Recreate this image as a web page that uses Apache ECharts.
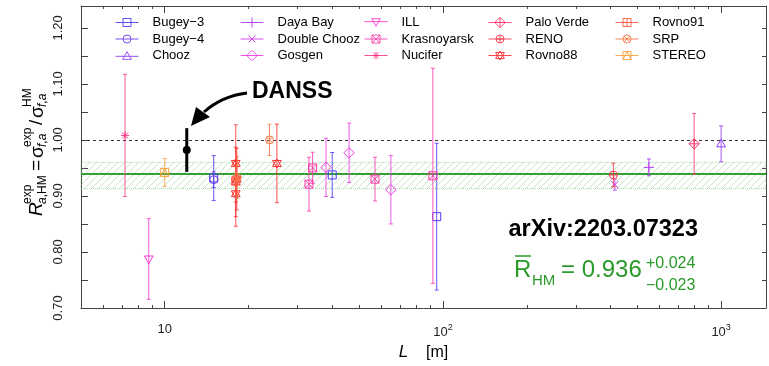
<!DOCTYPE html>
<html><head><meta charset="utf-8">
<script src="https://cdn.jsdelivr.net/npm/echarts@6/dist/echarts.min.js"></script>
<style>html,body{margin:0;padding:0;background:#fff}#c{width:769px;height:366px}</style>
</head><body><div id="c"></div>
<script>
// ---------- data ----------
const names = ['Bugey−3','Bugey−4','Chooz','Daya Bay','Double Chooz','Gosgen','ILL','Krasnoyarsk','Nucifer','Palo Verde','RENO','Rovno88','Rovno91','SRP','STEREO'];
const markers = ['square','circle','triUp','plus','cross','diamond','triDown','squareX','asterisk','diamondPlus','circlePlus','hexagram','squarePlus','circleX','squareTri'];
const colors = ['#4a3cf2','#6c3cf2','#8e3cf2','#b23cee','#d03cea','#ee3ce6','#fa3cd2','#fa3cac','#fa3c8c','#fa3c6e','#fa3c52','#fa3232','#fa5a46','#fa7a48','#faa03c'];
// [L (m), R, error]
const bugey3 = [[15,0.932,0.040],[40,0.9375,0.040],[95,0.863,0.131]];
const bugey4 = [[15,0.929,0.014]];
const chooz = [[1000,0.993,0.032]];
const dayaBay = [[550,0.951,0.015]];
const doubleChooz = [[415,0.920,0.010]];
const gosgen = [[38,0.951,0.052],[46,0.977,0.053],[65,0.911,0.061]];
const ill = [[8.76,0.7875,0.072]];
const krasnoyarsk = [[33,0.921,0.048],[34,0.950,0.028],[57,0.930,0.039],[92,0.936,0.192]];
const nucifer = [[7.2,1.008,0.109]];
const paloVerde = [[800,0.993,0.054]];
const reno = [[410,0.9375,0.021]];
const rovno88 = [[18,0.958,0.069],[18,0.925,0.062],[18,0.904,0.058],[18.15,0.930,0.055],[25.3,0.958,0.070]];
const rovno91 = [[18,0.927,0.029]];
const srp = [[18.2,0.933,0.037],[23.8,1.000,0.028]];
const stereo = [[10,0.942,0.025]];
const danss = [[12,0.982,0.039]];
const allData = [bugey3,bugey4,chooz,dayaBay,doubleChooz,gosgen,ill,krasnoyarsk,nucifer,paloVerde,reno,rovno88,rovno91,srp,stereo];

const meanR = 0.936, meanHi = 0.960, meanLo = 0.913, refLine = 1.0;
const xMin = 5, xMax = 1450, yMin = 0.70, yMax = 1.239;
const yLabelValues = [0.70,0.80,0.90,1.00,1.10,1.20];
const minorTickValues = [6,7,8,9,20,30,40,50,60,70,80,90,200,300,400,500,600,700,800,900];
const legendColumns = [[0,1,2],[3,4,5],[6,7,8],[9,10,11],[12,13,14]];

// ---------- helpers ----------
const FONT = '"Liberation Sans", Arial, sans-serif';
function markerPath(t, cx, cy) {
  const r = 4;
  const f = v => v.toFixed(2);
  const P = (pts, close) => pts.map((p,i)=>(i?'L':'M')+f(cx+p[0])+','+f(cy+p[1])).join('') + (close?'Z':'');
  const sq = P([[-r,-r],[r,-r],[r,r],[-r,r]], true);
  const circ = rr => 'M'+f(cx-rr)+','+f(cy)+'A'+rr+','+rr+',0,1,0,'+f(cx+rr)+','+f(cy)+'A'+rr+','+rr+',0,1,0,'+f(cx-rr)+','+f(cy)+'Z';
  const d = r*1.3;
  const dia = P([[0,-d],[d,0],[0,d],[-d,0]], true);
  const plus = a => P([[-a,0],[a,0]]) + P([[0,-a],[0,a]]);
  const cross = a => P([[-a,-a],[a,a]]) + P([[a,-a],[-a,a]]);
  const tu = P([[0,-r*1.15],[r*1.1,r*0.75],[-r*1.1,r*0.75]], true);
  const td = P([[0,r*1.15],[r*1.1,-r*0.75],[-r*1.1,-r*0.75]], true);
  switch (t) {
    case 'square': return sq;
    case 'circle': return circ(r);
    case 'triUp': return tu;
    case 'plus': return plus(5);
    case 'cross': return cross(3.5);
    case 'diamond': return dia;
    case 'triDown': return td;
    case 'squareX': return sq + cross(r);
    case 'asterisk': return plus(4) + cross(3);
    case 'diamondPlus': return dia + plus(d);
    case 'circlePlus': return circ(r) + plus(r);
    case 'hexagram': return tu + td;
    case 'squarePlus': return sq + plus(r);
    case 'circleX': return circ(r) + cross(r*0.7);
    case 'squareTri': return sq + P([[-r,r],[0,-r],[r,r]]);
  }
}
function legendIcon(t) {
  return 'path://M0,5.5L23,5.5' + markerPath(t, 11.5, 5.5);
}
function makeRender(mk, color) {
  return function (params, api) {
    const x = api.value(0), y = api.value(1), e = api.value(2);
    const p = api.coord([x, y]), t = api.coord([x, y + e]), b = api.coord([x, y - e]);
    const cw = 2;
    const ls = {stroke: color, lineWidth: 1, opacity: 0.85};
    return {type: 'group', children: [
      {type: 'line', shape: {x1: p[0], y1: t[1], x2: p[0], y2: b[1]}, style: ls},
      {type: 'line', shape: {x1: p[0]-cw, y1: t[1], x2: p[0]+cw, y2: t[1]}, style: ls},
      {type: 'line', shape: {x1: p[0]-cw, y1: b[1], x2: p[0]+cw, y2: b[1]}, style: ls},
      {type: 'path', shape: {pathData: markerPath(mk, p[0], p[1])}, style: {stroke: color, fill: 'rgba(255,255,255,0)', lineWidth: 1}}
    ]};
  };
}

// hatch pattern
const pc = document.createElement('canvas'); pc.width = 7; pc.height = 7;
const g = pc.getContext('2d');
g.strokeStyle = 'rgba(110,190,110,0.5)'; g.lineWidth = 0.8;
g.beginPath(); g.moveTo(0,7); g.lineTo(7,0); g.moveTo(-1,1); g.lineTo(1,-1); g.moveTo(6,8); g.lineTo(8,6); g.stroke();

const series = allData.map((d, i) => ({
  type: 'custom', name: names[i], data: d, renderItem: makeRender(markers[i], colors[i]), z: 5, silent: true
}));
series.push({
  type: 'custom', name: 'DANSS', data: danss, z: 6, silent: true,
  renderItem: function (params, api) {
    const x = api.value(0), y = api.value(1), e = api.value(2);
    const p = api.coord([x, y]), t = api.coord([x, y + e]), b = api.coord([x, y - e]);
    return {type: 'group', children: [
      {type: 'line', shape: {x1: p[0], y1: t[1], x2: p[0], y2: b[1]}, style: {stroke: '#000', lineWidth: 3}},
      {type: 'circle', shape: {cx: p[0], cy: p[1], r: 4}, style: {fill: '#000'}}
    ]};
  },
  markLine: {
    silent: true, symbol: 'none', label: {show: false}, z: 3,
    data: [
      {yAxis: refLine, lineStyle: {color: '#333', width: 1, type: [3, 3]}},
      {yAxis: meanR, lineStyle: {color: '#35a035', width: 2, type: 'solid'}}
    ]
  },
  markArea: {
    silent: true, z: 1,
    itemStyle: {color: {image: pc, repeat: 'repeat'}, borderColor: 'rgba(110,190,110,0.6)', borderWidth: 1, borderType: 'dotted'},
    data: [[{yAxis: meanLo}, {yAxis: meanHi}]]
  }
});
series.push({
  type: 'custom', name: 'minorTicks', data: minorTickValues.map(v => [v, 1]), silent: true, z: 4,
  renderItem: function (params, api) {
    const x = Math.round(api.coord([api.value(0), 1])[0]) + 0.5;
    const cs = params.coordSys;
    const st = {stroke: '#444', lineWidth: 1};
    return {type: 'group', children: [
      {type: 'line', shape: {x1: x, y1: cs.y + cs.height, x2: x, y2: cs.y + cs.height - 3}, style: st},
      {type: 'line', shape: {x1: x, y1: cs.y, x2: x, y2: cs.y + 3}, style: st}
    ]};
  }
});

const axisLine = {show: true, lineStyle: {color: '#444', width: 1}};
const supMap = {100: '2', 1000: '3'};

function yTitle() {
  const rich = {i: {fontStyle: 'italic', fontSize: 12, fontFamily: FONT}};
  const items = [
    ['R', 0, 0, 19, 'italic'],
    ['exp', 12, -9, 12],
    ['{i|a},HM', 12, 6, 12],
    ['=', 45, 0, 19],
    ['σ', 58, 1, 19],
    ['exp', 69, -9, 12],
    ['{i|f},{i|a}', 69, 6, 12],
    ['/', 91, 0, 19],
    ['σ', 98, 1, 19],
    ['HM', 109, -9, 12],
    ['{i|f},{i|a}', 109, 6, 12]
  ];
  return {type: 'group', x: 37, y: 216, rotation: Math.PI / 2, silent: true,
    children: items.map(it => ({type: 'text', x: it[1], y: it[2], style: {
      text: it[0], fontSize: it[3], fontStyle: it[4] || 'normal', fontFamily: FONT, fill: '#000',
      align: 'left', verticalAlign: 'middle', rich: rich}}))};
}

const chart = echarts.init(document.getElementById('c'), null, {renderer: 'canvas'});
chart.setOption({
  animation: false,
  backgroundColor: '#fff',
  grid: {left: 81, right: 1, top: 6, bottom: 58},
  xAxis: [{
    type: 'log', logBase: 10, min: xMin, max: xMax, position: 'bottom',
    axisLine: axisLine, splitLine: {show: false},
    axisTick: {show: true, inside: true, length: 7, lineStyle: {color: '#444'}},
    axisLabel: {margin: 15, fontSize: 13, fontFamily: FONT, color: '#222',
      formatter: v => v === 10 ? '10' : (supMap[v] ? '10{s|' + supMap[v] + '}' : ''),
      rich: {s: {fontSize: 9, fontFamily: FONT, color: '#222', padding: [0, 0, 9, 0]}}},
    name: '{it|L}    [m]', nameLocation: 'middle', nameGap: 36,
    nameTextStyle: {fontSize: 16, fontFamily: FONT, color: '#000', rich: {it: {fontSize: 17, fontStyle: 'italic', fontFamily: FONT, color: '#000'}}}
  }, {
    type: 'log', logBase: 10, min: xMin, max: xMax, position: 'top',
    axisLine: axisLine, splitLine: {show: false},
    axisTick: {show: true, inside: true, length: 7, lineStyle: {color: '#444'}},
    axisLabel: {show: false}
  }],
  yAxis: [{
    type: 'value', min: yMin, max: yMax, interval: 0.05, position: 'left',
    axisLine: axisLine, splitLine: {show: false},
    axisTick: {show: true, inside: true, length: 7, lineStyle: {color: '#444'}},
    axisLabel: {rotate: 90, margin: 16, fontSize: 13, fontFamily: FONT, color: '#222',
      formatter: v => yLabelValues.some(l => Math.abs(l - v) < 1e-6) ? v.toFixed(2) : ''}
  }, {
    type: 'value', min: yMin, max: yMax, interval: 0.05, position: 'right',
    axisLine: axisLine, splitLine: {show: false},
    axisTick: {show: true, inside: true, length: 4, lineStyle: {color: '#444'}},
    axisLabel: {show: false}
  }],
  legend: legendColumns.map((col, ci) => ({
    orient: 'vertical', left: [115, 240, 364, 488, 615][ci], top: 16, padding: 0,
    itemWidth: 23, itemHeight: 11, itemGap: 3.5, selectedMode: false,
    textStyle: {fontSize: 13, fontFamily: FONT, color: '#000', padding: [0, 0, 0, 9]},
    data: col.map(i => ({name: names[i], icon: legendIcon(markers[i]),
      itemStyle: {color: 'rgba(0,0,0,0)', borderColor: colors[i], borderWidth: 1, opacity: 0.9}}))
  })),
  series: series,
  graphic: [
    yTitle(),
    {type: 'text', x: 252, y: 92, silent: true, style: {text: 'DANSS', fontSize: 23, fontWeight: 'bold', fontFamily: FONT, fill: '#000', verticalAlign: 'middle'}},
    {type: 'bezierCurve', silent: true, shape: {x1: 247, y1: 93, cpx1: 222, cpy1: 96, x2: 204, y2: 112}, style: {stroke: '#000', lineWidth: 3, fill: null}},
    {type: 'polygon', silent: true, shape: {points: [[191, 126], [196, 107], [210, 117]]}, style: {fill: '#000'}},
    {type: 'text', x: 698, y: 230, silent: true, style: {text: 'arXiv:2203.07323', fontSize: 23.5, fontWeight: 'bold', fontFamily: FONT, fill: '#000', align: 'right', verticalAlign: 'middle'}},
    {type: 'text', x: 514, y: 270, silent: true, style: {text: 'R', fontSize: 24, fontFamily: FONT, fill: '#2a9a2a', verticalAlign: 'middle'}},
    {type: 'line', silent: true, shape: {x1: 515, y1: 256, x2: 531, y2: 256}, style: {stroke: '#2a9a2a', lineWidth: 1.5}},
    {type: 'text', x: 532, y: 281, silent: true, style: {text: 'HM', fontSize: 15, fontFamily: FONT, fill: '#2a9a2a', verticalAlign: 'middle'}},
    {type: 'text', x: 561, y: 270, silent: true, style: {text: '= 0.936', fontSize: 24, fontFamily: FONT, fill: '#2a9a2a', verticalAlign: 'middle'}},
    {type: 'text', x: 646, y: 264, silent: true, style: {text: '+0.024', fontSize: 16, fontFamily: FONT, fill: '#2a9a2a', verticalAlign: 'middle'}},
    {type: 'text', x: 646, y: 286, silent: true, style: {text: '−0.023', fontSize: 16, fontFamily: FONT, fill: '#2a9a2a', verticalAlign: 'middle'}}
  ]
});
</script></body></html>
